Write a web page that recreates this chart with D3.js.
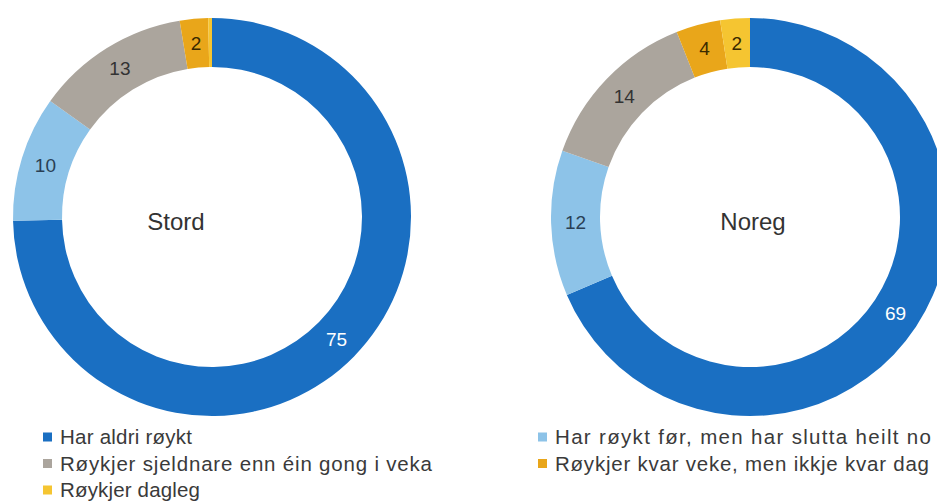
<!DOCTYPE html>
<html><head><meta charset="utf-8">
<script src="https://cdn.jsdelivr.net/npm/d3@7"></script>
<style>body{margin:0;background:#fff;}svg{display:block;font-family:"Liberation Sans",Arial,sans-serif;}</style>
</head><body>
<svg id="c" width="937" height="501"></svg>
<script>
const categories = ["Har aldri røykt","Har røykt før, men har slutta heilt no","Røykjer sjeldnare enn éin gong i veka","Røykjer kvar veke, men ikkje kvar dag","Røykjer dagleg"];
const colors = ["#1a6fc2","#8dc3e8","#aba59d","#e9a61a","#f5c531"];
const labelColors = ["#ffffff","#2a3f55","#333333","#3a2a00","#3a2a00"];
const places = ["Stord","Noreg"];
const stordValues = [74.7, 10.2, 12.5, 2.3, 0.3];
const noregValues = [68.6, 11.8, 13.6, 3.6, 2.4];
const legendLeft = [0, 2, 4];
const legendRight = [1, 3];
// rendered widths of the legend texts in the reference (style)
const legendWidths = [132, 376, 372, 374, 140];

const svg = d3.select("#c");
const pie = d3.pie().sort(null).value(d => d);
const arc = d3.arc().innerRadius(150).outerRadius(199);

const charts = [
  {name: places[0], values: stordValues, cx: 212, cy: 217, tx: 176, ty: 222},
  {name: places[1], values: noregValues, cx: 750, cy: 217, tx: 753, ty: 222}
];

charts.forEach(ch => {
  const g = svg.append("g").attr("transform", `translate(${ch.cx},${ch.cy})`);
  const arcs = pie(ch.values);
  g.selectAll("path").data(arcs).enter().append("path")
    .attr("d", arc).attr("fill", (d, i) => colors[i]);
  g.selectAll("text.v").data(arcs.filter(d => Math.round(d.data) >= 1)).enter().append("text")
    .attr("class", "v")
    .attr("transform", d => `translate(${arc.centroid(d)})`)
    .attr("text-anchor", "middle").attr("dy", "0.35em")
    .attr("font-size", 19)
    .attr("fill", d => labelColors[d.index])
    .text(d => Math.round(d.data));
  svg.append("text").attr("x", ch.tx).attr("y", ch.ty)
    .attr("text-anchor", "middle").attr("dy", "0.35em")
    .attr("font-size", 24).attr("fill", "#333")
    .text(ch.name);
});

function legend(items, x, y0) {
  const g = svg.append("g");
  items.forEach((ci, k) => {
    const y = y0 + k * 26.5;
    g.append("rect").attr("x", x).attr("y", y - 4.5).attr("width", 9).attr("height", 9).attr("fill", colors[ci]);
    g.append("text").attr("x", x + 17).attr("y", y).attr("dy", "0.35em")
      .attr("font-size", 20.5).attr("fill", "#3a3a3a")
      .attr("textLength", legendWidths[ci]).attr("lengthAdjust", "spacing")
      .text(categories[ci]);
  });
}
legend(legendLeft, 43, 437);
legend(legendRight, 538, 437);
</script>
</body></html>
